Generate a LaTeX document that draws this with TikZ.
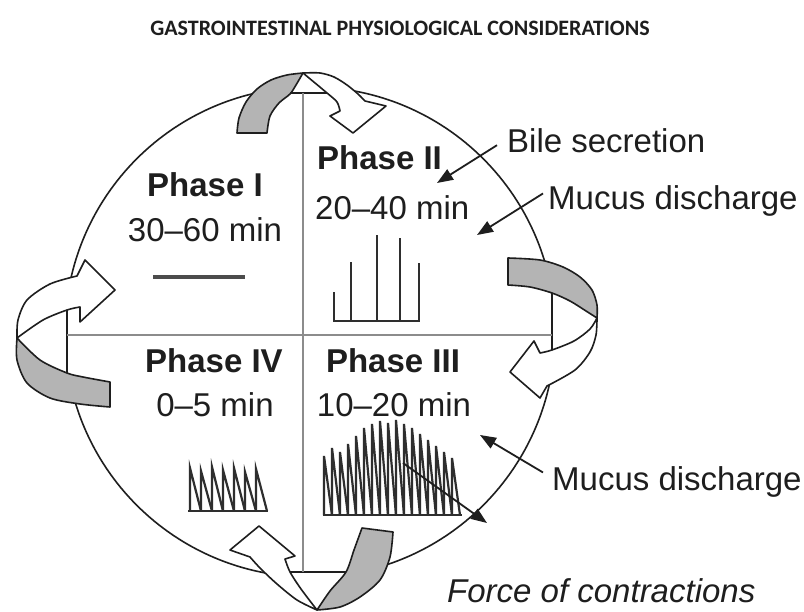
\documentclass[tikz,border=0pt]{standalone}
\usepackage{fontspec}
\setmainfont{Liberation Sans}
\newfontfamily\titlefont{Carlito}
\usetikzlibrary{arrows.meta}
\definecolor{ink}{HTML}{1E1E1E}
\definecolor{ribbon}{HTML}{B4B4B4}
\definecolor{divider}{HTML}{8C8C8C}
\definecolor{wave}{HTML}{2E2E2E}
\begin{document}
\begin{tikzpicture}[x=1pt,y=-1pt,
  lbl/.style={font=\fontsize{33}{38}\selectfont, text=ink, inner sep=0pt},
  phase/.style={font=\fontsize{33}{38}\selectfont\bfseries, text=ink, inner sep=0pt},
  outline/.style={draw=ink, line width=1.6pt, line join=round},
  grayband/.style={outline, fill=ribbon},
  whiteband/.style={outline, fill=white},
  pointer/.style={draw=ink, line width=1.8pt, -{Triangle[length=16pt,width=12pt]}},
  divline/.style={draw=divider, line width=2.5pt},
  wavestyle/.style={draw=wave, line width=2.2pt, line join=miter},
]
\useasboundingbox[fill=white] (0,0) rectangle (804,612);

% title
\node[font=\titlefont\bfseries\fontsize{22}{26}\selectfont, text=ink, anchor=base, inner sep=0pt] (title) at (400,36) {GASTROINTESTINAL PHYSIOLOGICAL CONSIDERATIONS};

% circle
\draw[outline] (310,332) circle[radius=245pt];

% gaps at the turning points
\fill[white] (303,73) -- (283,100) -- (337,100) -- cycle;
\fill[white] (597,318) -- (545,285) -- (545,358) -- cycle;
\fill[white] (317,610) -- (282,565) -- (356,565) -- cycle;
\fill[white] (17,338) -- (75,300) -- (75,382) -- cycle;

% top arrow
\draw[grayband] plot[smooth] coordinates {(237,133) (239,118) (246,102) (257,89) (271,80) (287,75) (303,73)}
  -- plot[smooth] coordinates {(303,73) (296,85) (290,94) (279,103) (270,116) (267,133)} -- cycle;
\draw[whiteband] plot[smooth] coordinates {(303,73) (320,73) (334,77) (347,85) (358,94) (365,101)}
  -- (386,106) -- (353,133) -- (330,116)
  -- plot[smooth] coordinates {(340,111) (337,102) (327,93) (303,73)} -- cycle;
\draw[outline] (290,93) -- (327,93);

% right arrow
\draw[grayband] plot[smooth] coordinates {(508,258) (540,260) (563,267) (580,277) (592,290) (597,305) (597,318)}
  -- plot[smooth] coordinates {(597,318) (586,311) (570,301) (552,293) (530,287) (508,285)} -- cycle;
\draw[whiteband] plot[smooth] coordinates {(597,318) (596,335) (590,352) (575,370) (547,386)}
  -- (540,398) -- (510,372) -- (534,341)
  -- plot[smooth] coordinates {(540,353) (552,350) (574,341) (590,329) (597,318)} -- cycle;
\draw[outline] (552,293) -- (552,350);

% bottom arrow
\draw[grayband] plot[smooth] coordinates {(393,532) (390,557) (380,580) (360,597) (340,607) (317,610)}
  -- plot[smooth] coordinates {(317,610) (330,591) (346,572) (354,550) (362,528)} -- cycle;
\draw[whiteband] plot[smooth] coordinates {(317,610) (297,600) (277,584) (260,568) (250,557)}
  -- (230,550) -- (259,526) -- (295,556)
  -- plot[smooth] coordinates {(285,559) (290,572) (301,589) (317,610)} -- cycle;
\draw[outline] (290,572) -- (346,572);

% left arrow
\draw[grayband] plot[smooth] coordinates {(17,338) (17,360) (27,383) (50,398) (80,404) (110,407)}
  -- (110,382) -- plot[smooth] coordinates {(110,382) (83,377) (67,373) (40,360) (17,338)} -- cycle;
\draw[whiteband] plot[smooth] coordinates {(17,338) (18,320) (27,300) (50,284) (77,276)}
  -- (85,260) -- (115,290) -- (80,322)
  -- plot[smooth] coordinates {(80,307) (67,310) (43,320) (17,338)} -- cycle;
\draw[outline] (67,310) -- (67,373);

% quadrant dividers
\draw[divline] (303,93) -- (303,572);
\draw[divline] (67,335) -- (552,335);

% phase I trace
\draw[draw=gray!60!black, line width=3.5pt] (153,277) -- (245,277);
% phase II trace
\draw[wavestyle, line width=2pt] (333,321) -- (420,321);
\foreach \xx/\tt in {334/292, 351/262, 377/235, 400/238, 419/263}
  \draw[wavestyle, line width=2pt] (\xx,321) -- (\xx,\tt);
% phase IV trace
\draw[wavestyle] (188,511) -- (268,511);
\foreach \xx/\tt in {190/468, 201/471, 212/467, 223/470, 234/468, 245/472, 256/469}
  \draw[wavestyle] (\xx,511) -- (\xx,\tt) -- (\xx+11,511);
% phase III trace
\draw[wavestyle] (323,515) -- (462,515);
\foreach \xx/\tt in {324/456, 332/448, 340/452, 348/444, 356/436, 364/428, 372/424, 380/421, 388/423, 396/420, 404/424, 412/428, 420/434, 428/440, 436/446, 444/452, 452/458}
  \draw[wavestyle] (\xx,515) -- (\xx,\tt) -- (\xx+8,515);

% phase labels
\node[phase, anchor=base] (p1) at (205,197) {Phase I};
\node[lbl, anchor=base] (t1) at (205,242) {30–60 min};
\node[phase, anchor=base west] (p2) at (317,170) {Phase II};
\node[lbl, anchor=base west] (t2) at (315,220) {20–40 min};
\node[phase, anchor=base] (p4) at (214,373) {Phase IV};
\node[lbl, anchor=base] (t4) at (215,417) {0–5 min};
\node[phase, anchor=base] (p3) at (393,373) {Phase III};
\node[lbl, anchor=base] (t3) at (394,417) {10–20 min};

% side labels
\node[lbl, anchor=base west] (bile) at (507,153) {Bile secretion};
\node[lbl, anchor=base west] (mucusA) at (548,210) {Mucus discharge};
\node[lbl, anchor=base west] (mucusB) at (552,490) {Mucus discharge};
\node[lbl, anchor=base west, font=\fontsize{33}{38}\selectfont\itshape] (force) at (447,602) {Force of contractions};

\coordinate (bileTip) at (437,183);
\coordinate (mucusATip) at (477,235);
\coordinate (mucusBTip) at (480,435);
\coordinate (forceStart) at (403,463);
\coordinate (forceTip) at (487,523);

\draw[pointer] ([shift={(-10,4)}]bile.west) -- (bileTip);
\draw[pointer] ([shift={(-5,-8)}]mucusA.west) -- (mucusATip);
\draw[pointer] ([shift={(-9,-9)}]mucusB.west) -- (mucusBTip);
\draw[pointer] (forceStart) -- (forceTip);
\end{tikzpicture}
\end{document}
